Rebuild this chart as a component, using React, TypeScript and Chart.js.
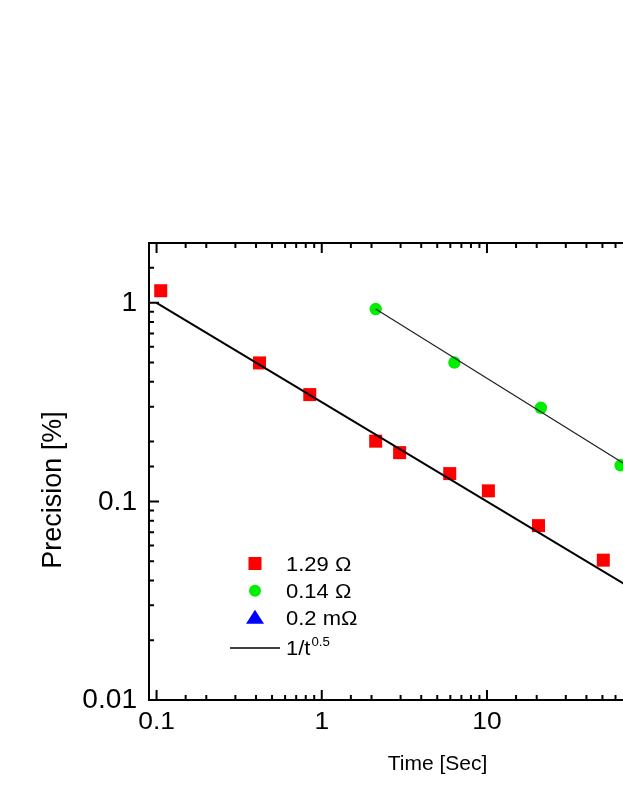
import React, { useEffect, useRef } from 'react';
import { Chart, registerables } from 'chart.js';

Chart.register(...registerables);

// ---- data ----
const redX = [0.106, 0.42, 0.846, 2.12, 2.96, 5.95, 10.2, 20.5, 50.6];
const redY = [1.15, 0.498, 0.345, 0.201, 0.176, 0.138, 0.113, 0.0755, 0.0506];
const greenX = [2.12, 6.35, 21.2, 64.4];
const greenY = [0.93, 0.5, 0.296, 0.152];
const blueX: number[] = [];
const blueY: number[] = [];
const fitX = [0.1, 300];
const fitY = [1, 0.01826];
const greenFitX = [2.12, 300];
const greenFitY = [0.93, 0.0715];

const xTickValues = [0.1, 1, 10, 100];
const xTickLabels = ['0.1', '1', '10', '100'];
const yTickValues = [0.01, 0.1, 1];
const yTickLabels = ['0.01', '0.1', '1'];

const seriesNames = ['1.29 \u03A9', '0.14 \u03A9', '0.2 m\u03A9', '1/t'];
const fitSup = '0.5';
const xTitle = 'Time [Sec]';
const yTitle = 'Precision [%]';

const X_MIN = 0.09;
const X_MAX = 300;
const Y_MIN = 0.01;
const Y_MAX = 2;

const FONT = '"Liberation Sans", Arial, sans-serif';

const zip = (xs: number[], ys: number[]) => xs.map((x, i) => ({ x, y: ys[i] }));

const isMajor = (v: number) => {
  const l = Math.log10(v);
  return Math.abs(l - Math.round(l)) < 1e-6;
};

function drawText(
  ctx: CanvasRenderingContext2D,
  text: string,
  x: number,
  y: number,
  size: number,
  align: CanvasTextAlign,
  baseline: CanvasTextBaseline,
  sx = 1
) {
  ctx.save();
  ctx.font = `${size}px ${FONT}`;
  ctx.textAlign = align;
  ctx.textBaseline = baseline;
  ctx.fillStyle = '#000';
  ctx.translate(x, y);
  ctx.scale(sx, 1);
  ctx.fillText(text, 0, 0);
  ctx.restore();
}

const framePlugin = {
  id: 'originFrame',
  afterDraw(chart: any) {
    const ctx: CanvasRenderingContext2D = chart.ctx;
    const { left, right, top, bottom } = chart.chartArea;
    const xs = chart.scales.x;
    const ys = chart.scales.y;
    ctx.save();
    ctx.strokeStyle = '#000';
    ctx.lineWidth = 2;
    ctx.lineCap = 'butt';
    ctx.strokeRect(left, top, right - left, bottom - top);

    // x ticks (bottom & top, inward)
    xs.ticks.forEach((t: any) => {
      const v = t.value;
      const px = xs.getPixelForValue(v);
      if (px <= left + 1 || px >= right - 1) return;
      const len = isMajor(v) ? 10 : 5;
      ctx.beginPath();
      ctx.moveTo(px, bottom);
      ctx.lineTo(px, bottom - len);
      ctx.moveTo(px, top);
      ctx.lineTo(px, top + len);
      ctx.stroke();
    });
    // y ticks (left & right, inward)
    ys.ticks.forEach((t: any) => {
      const v = t.value;
      const py = ys.getPixelForValue(v);
      if (py <= top + 1 || py >= bottom - 1) return;
      const len = isMajor(v) ? 10 : 5;
      ctx.beginPath();
      ctx.moveTo(left, py);
      ctx.lineTo(left + len, py);
      ctx.moveTo(right, py);
      ctx.lineTo(right - len, py);
      ctx.stroke();
    });
    ctx.restore();

    // tick labels
    xTickValues.forEach((v, i) => {
      const px = xs.getPixelForValue(v);
      drawText(ctx, xTickLabels[i], px, 722, 24, 'center', 'middle', 1.1);
    });
    yTickValues.forEach((v, i) => {
      const py = ys.getPixelForValue(v);
      drawText(ctx, yTickLabels[i], 137, py + 1, 27, 'right', 'middle', 1.04);
    });

    // axis titles
    drawText(ctx, xTitle, 437.5, 770, 21, 'center', 'alphabetic');
    ctx.save();
    ctx.translate(61, 490);
    ctx.rotate(-Math.PI / 2);
    drawText(ctx, yTitle, 0, 0, 27, 'center', 'alphabetic');
    ctx.restore();

    // legend
    const lx = 255;
    const rows = [563.5, 590.7, 617.7, 648];
    ctx.save();
    ctx.fillStyle = '#ff0000';
    ctx.fillRect(lx - 6.5, rows[0] - 6.5, 13, 13);
    ctx.fillStyle = '#00ee00';
    ctx.beginPath();
    ctx.arc(lx, rows[1], 6, 0, Math.PI * 2);
    ctx.fill();
    ctx.fillStyle = '#0000ff';
    ctx.beginPath();
    ctx.moveTo(lx, rows[2] - 8);
    ctx.lineTo(lx + 9, rows[2] + 6);
    ctx.lineTo(lx - 9, rows[2] + 6);
    ctx.closePath();
    ctx.fill();
    ctx.strokeStyle = '#000';
    ctx.lineWidth = 1.5;
    ctx.beginPath();
    ctx.moveTo(230, rows[3]);
    ctx.lineTo(280, rows[3]);
    ctx.stroke();
    ctx.restore();
    const tx = 286;
    for (let i = 0; i < 4; i++) {
      drawText(ctx, seriesNames[i], tx, rows[i] + 7, 20, 'left', 'alphabetic', 1.1);
    }
    ctx.save();
    ctx.font = `20px ${FONT}`;
    const w = ctx.measureText(seriesNames[3]).width * 1.1;
    ctx.restore();
    drawText(ctx, fitSup, tx + w + 1, rows[3] - 2, 12, 'left', 'alphabetic', 1.1);
  },
};

export default function App() {
  const ref = useRef<HTMLCanvasElement | null>(null);
  useEffect(() => {
    if (!ref.current) return;
    const chart = new Chart(ref.current, {
      type: 'scatter',
      data: {
        datasets: [
          {
            label: '1/t^0.5',
            data: zip(fitX, fitY),
            showLine: true,
            borderColor: '#000',
            borderWidth: 2,
            pointRadius: 0,
          },
          {
            label: 'fit 0.14',
            data: zip(greenFitX, greenFitY),
            showLine: true,
            borderColor: '#222',
            borderWidth: 1.2,
            pointRadius: 0,
          },
          {
            label: seriesNames[0],
            data: zip(redX, redY),
            pointStyle: 'rect',
            pointRadius: 9.2,
            pointBorderWidth: 0,
            backgroundColor: '#ff0000',
            borderColor: '#ff0000',
          },
          {
            label: seriesNames[1],
            data: zip(greenX, greenY),
            pointStyle: 'circle',
            pointRadius: 6.2,
            pointBorderWidth: 0,
            backgroundColor: '#00ee00',
            borderColor: '#00ee00',
          },
          {
            label: seriesNames[2],
            data: zip(blueX, blueY),
            pointStyle: 'triangle',
            pointRadius: 8,
            pointBorderWidth: 0,
            backgroundColor: '#0000ff',
            borderColor: '#0000ff',
          },
        ],
      },
      options: {
        animation: false,
        responsive: false,
        maintainAspectRatio: false,
        devicePixelRatio: 1,
        layout: { padding: { left: 0, top: 243, right: 69, bottom: 0 } },
        plugins: {
          legend: { display: false },
          tooltip: { enabled: false },
          title: { display: false },
        },
        scales: {
          x: {
            type: 'logarithmic',
            position: 'bottom',
            min: X_MIN,
            max: X_MAX,
            grid: { display: false, drawTicks: false },
            border: { display: false },
            ticks: { display: false },
            afterFit: (s: any) => {
              s.height = 106;
            },
          },
          y: {
            type: 'logarithmic',
            position: 'left',
            min: Y_MIN,
            max: Y_MAX,
            grid: { display: false, drawTicks: false },
            border: { display: false },
            ticks: { display: false },
            afterFit: (s: any) => {
              s.width = 149;
            },
          },
        },
      },
      plugins: [framePlugin],
    } as any);
    return () => chart.destroy();
  }, []);
  return (
    <div
      style={{
        position: 'fixed',
        left: 0,
        top: 0,
        width: 623,
        height: 806,
        overflow: 'hidden',
        background: '#fff',
      }}
    >
      <canvas ref={ref} width={800} height={806} style={{ display: 'block', width: 800, height: 806 }} />
    </div>
  );
}
